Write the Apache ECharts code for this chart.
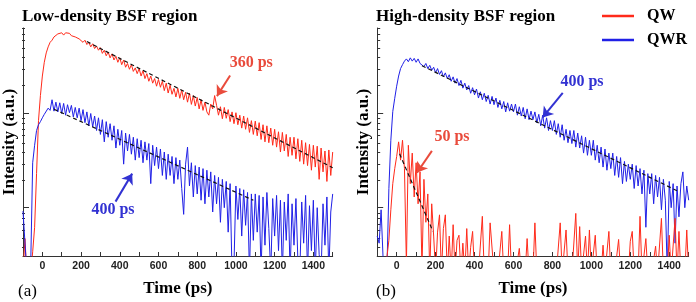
<!DOCTYPE html>
<html><head><meta charset="utf-8">
<script src="https://cdn.jsdelivr.net/npm/echarts@6/dist/echarts.min.js"></script>
<style>html,body{margin:0;padding:0;background:#fff}#chart{width:696px;height:302px}</style>
</head><body><div id="chart"></div>
<script>
// time axis (ps), 10 ps steps
const timePs = [
-100,-90,-80,-70,-60,-50,-40,-30,-20,-10,
0,10,20,30,40,50,60,70,80,90,
100,110,120,130,140,150,160,170,180,190,
200,210,220,230,240,250,260,270,280,290,
300,310,320,330,340,350,360,370,380,390,
400,410,420,430,440,450,460,470,480,490,
500,510,520,530,540,550,560,570,580,590,
600,610,620,630,640,650,660,670,680,690,
700,710,720,730,740,750,760,770,780,790,
800,810,820,830,840,850,860,870,880,890,
900,910,920,930,940,950,960,970,980,990,
1000,1010,1020,1030,1040,1050,1060,1070,1080,1090,
1100,1110,1120,1130,1140,1150,1160,1170,1180,1190,
1200,1210,1220,1230,1240,1250,1260,1270,1280,1290,
1300,1310,1320,1330,1340,1350,1360,1370,1380,1390,
1400,1410,1420,1430,1440,1450,1460,1470,1480,1490,
1500];

// (a) low-density BSF region, intensity (a.u.)
const qwLowDensity = [
0.2,0.47,0.2,0.2,0.2,0.34,0.62,2.3,8.4,15.5,
25,35,44,51,57,60,65,66,70,68,
72,68,72,70,71,67,69,65,66,62,
63,57,60,54,57,51,55,49,52,47,
50,43.5,47,41,45,39,43,37,40.5,35,
39,33,37,31,34,29.5,33,28,30.5,26.5,
30,25,28.5,23.5,26.5,22,25,21,23.5,19.5,
23,19,22,17.5,21,16.5,20,16,18.5,15,
18.5,14.5,17.8,14,16.8,13.2,16.5,12.5,15.5,12,
14.8,11.2,14,10.8,13.2,10.4,9.6,12.6,11.2,15.5,
12.2,9.6,11.8,8.8,11.6,8.9,11.0,8.2,10.4,7.8,
10.2,7.6,9.6,7.0,9.4,6.8,9.0,6.3,8.4,6.0,
8.3,5.8,8.0,5.3,7.6,5.0,7.4,4.9,7.0,4.6,
6.8,4.4,6.4,3.9,6.3,4.0,6.0,3.5,5.6,3.6,
5.6,3.3,5.4,3.1,5.2,2.9,4.9,2.8,4.7,2.5,
4.6,2.7,4.5,2.0,4.3,2.4,4.0,1.9,4.1,2.2,
3.9];
const qwrLowDensity = [
0.92,0.88,0.2,0.2,0.26,3.0,4.6,6.6,7.6,8.2,
9.0,9.8,9.6,11.4,10.8,14.0,10.6,13.2,10.4,13.0,
10.0,12.8,9.6,12.4,10.2,12.2,9.2,11.6,9.0,11.4,
8.4,11.0,8.0,10.4,7.4,10.0,7.2,9.4,6.6,9.0,
6.0,8.6,5.0,8.2,5.6,7.8,5.2,7.4,4.3,6.8,
4.6,6.6,2.9,6.2,4.0,6.0,3.7,5.6,3.2,5.4,
3.4,5.2,3.0,5.0,3.2,4.8,1.8,4.6,2.8,4.4,
2.6,4.2,2.2,3.9,2.0,3.7,2.2,3.5,1.8,3.4,
2.0,3.2,1.6,0.85,2.9,4.4,1.7,3.0,1.3,2.8,
1.4,2.7,1.2,2.6,1.1,2.5,1.3,2.4,0.9,2.2,
1.1,2.1,0.7,2.0,1.0,1.9,0.55,1.8,0.2,0.25,
1.7,0.75,1.6,0.5,1.55,0.65,1.45,0.2,1.4,0.45,
1.4,0.55,1.35,0.2,1.3,0.4,1.45,0.6,0.2,1.25,
0.5,1.35,0.35,1.2,0.2,1.15,0.45,1.4,0.2,1.1,
0.4,1.25,0.28,0.2,1.15,0.42,1.35,0.2,1.05,0.35,
1.2,0.2,1.0,0.32,0.2,1.1,0.4,1.3,0.2,0.9,
1.4];

// (b) high-density BSF region, intensity (a.u.)
const qwHighDensity = [
0.2,0.2,0.2,0.2,0.2,0.2,0.45,0.95,1.8,2.6,
3.5,5.0,3.2,5.2,2.6,0.25,4.6,1.8,3.8,1.3,
3.0,1.1,2.4,0.22,2.0,0.7,1.4,0.2,1.1,0.5,
0.2,0.55,0.84,0.2,0.6,0.84,0.2,0.5,0.2,0.66,
0.2,0.45,0.51,0.2,0.42,0.2,0.6,0.2,0.38,0.56,
0.2,0.2,0.2,0.2,0.81,0.2,0.2,0.2,0.69,0.69,
0.2,0.2,0.2,0.2,0.56,0.2,0.2,0.2,0.66,0.2,
0.2,0.2,0.2,0.37,0.2,0.2,0.2,0.47,0.2,0.2,
0.2,0.69,0.2,0.2,0.2,0.2,0.2,0.2,0.2,0.2,
0.2,0.2,0.2,0.2,0.69,0.2,0.2,0.58,0.2,0.2,
0.2,0.2,0.87,0.2,0.63,0.2,0.2,0.5,0.2,0.58,
0.2,0.2,0.51,0.2,0.2,0.2,0.4,0.2,0.2,0.56,
0.2,0.2,0.2,0.2,0.46,0.2,0.2,0.2,0.2,0.2,
0.44,0.56,0.2,0.2,0.2,0.81,0.2,0.2,0.47,0.2,
0.2,0.2,0.2,0.39,0.2,0.2,0.77,0.2,0.2,0.2,
0.51,0.2,0.2,0.77,0.2,0.56,0.2,0.2,0.2,0.58,
0.2];
const qwrHighDensity = [
0.5,0.42,0.95,0.3,0.2,0.22,1.6,5.2,10.5,14.5,
19.5,25,30,33,36,38,35.5,39,36,38.5,
35,38,34,35.5,31.5,34,30,32.5,28.8,31,
27,30,26,28.5,24.5,27,23.5,25.8,22,24.5,
21,23.5,19.8,22.5,18.6,21,17.8,19.8,16.4,18.8,
15.8,18.2,14.6,17,14,16.4,13.4,15.6,12.6,15.2,
12.4,14.6,11.6,13.8,11.2,13.4,10.4,13,10.6,12.6,
10.4,12.6,9.6,11.8,9.4,11.6,8.8,11.2,8.6,10.6,
8.6,10.4,8.0,9.8,7.4,9.6,7.0,9.0,6.6,8.4,
6.6,8.4,6.0,7.8,5.6,7.6,5.2,6.8,4.9,6.6,
4.8,6.6,4.4,6.2,4.3,5.8,3.8,5.6,3.6,5.2,
3.6,5.2,3.2,4.6,3.0,4.4,2.7,4.2,2.5,3.8,
2.6,3.8,2.2,3.5,2.1,3.4,1.8,3.1,1.9,2.9,
2.0,2.9,1.6,2.8,1.7,2.6,1.4,2.5,0.62,2.3,
1.4,2.3,1.1,2.2,1.3,2.1,0.95,2.0,1.2,0.2,
1.9,1.0,1.8,0.42,1.7,0.8,1.8,2.4,1.0,1.7,
1.2];

// exponential fits (straight on log axis): endpoints [time, intensity]
const fitQwLowTime = [230, 1500],  fitQwLowValue = [58.1, 2.66];
const fitQwrLowTime = [60, 1090],  fitQwrLowValue = [11.1, 1.2];
const fitQwHighTime = [15, 186],   fitQwHighValue = [3.73, 0.563];
const fitQwrHighTime = [130, 1450], fitQwrHighValue = [32.2, 1.48];

const xTickLabels = [0, 200, 400, 600, 800, 1000, 1200, 1400];
const yMajorTicks = [1, 10];
const yMinorTicks = [0.4,0.5,0.6,0.7,0.8,0.9,2,3,4,5,6,7,8,9,20,30,40,50,60,70,80];
const yRange = [0.307, 80.9];
const seriesNames = ['QW', 'QWR'];
const panelTitles = ['Low-density BSF region', 'High-density BSF region'];
const panelLetters = ['(a)', '(b)'];

const RED = '#ff2a1a', BLUE = '#2020e6';
const RED_TEXT = '#e94b3c', BLUE_TEXT = '#3232d2';
const SERIF = '"Liberation Serif", "DejaVu Serif", serif';
const SANS = '"Liberation Sans", Arial, sans-serif';

// annotation anchors in data coordinates (time ps, intensity)
const annotA = [
  {text:'360 ps', at:[1079, 34.7], from:[970, 25.3], to:[902, 15.3], color:RED_TEXT},
  {text:'400 ps', at:[365, 0.95], from:[378, 1.16], to:[464, 2.30], color:BLUE_TEXT}
];
const annotB = [
  {text:'400 ps', at:[952, 21.6], from:[853, 16.6], to:[750, 9.08], color:BLUE_TEXT},
  {text:'50 ps', at:[284, 5.63], from:[181, 4.01], to:[104, 2.35], color:RED_TEXT}
];

const pair = (ts, vs) => ts.map((t, i) => [t, vs[i]]);

function trace(name, color, ai, values) {
  return {name, type:'line', xAxisIndex:ai, yAxisIndex:ai, data:pair(timePs, values),
    symbol:'none', color, lineStyle:{width:1, color}, clip:true, animation:false, z:2};
}
function fit(ai, ts, vs, annots) {
  const s = {name:'fit', type:'line', xAxisIndex:ai, yAxisIndex:ai, data:pair(ts, vs),
    symbol:'none', lineStyle:{color:'#111', width:1.2, type:[4, 3]}, z:3, animation:false, silent:true};
  if (annots) {
    s.markLine = {silent:true, animation:false, symbol:['none', 'arrow'], symbolSize:10,
      lineStyle:{type:'solid', width:2}, label:{show:false},
      data: annots.map(a => [
        {coord:a.from, symbol:'none', lineStyle:{color:a.color, type:'solid', width:2}, itemStyle:{color:a.color}},
        {coord:a.to, symbol:'arrow', symbolSize:10, itemStyle:{color:a.color}}])};
    s.markPoint = {silent:true, animation:false,
      data: annots.map(a => ({coord:a.at, symbol:'circle', symbolSize:0,
        label:{show:true, position:'inside', formatter:a.text, color:a.color,
          fontFamily:SERIF, fontWeight:'bold', fontSize:16}}))};
  }
  return s;
}

const panels = [{left:22, width:310.7}, {left:377.2, width:311.5}];
const grids = [], xAxes = [], yAxes = [];
panels.forEach(p => {
  grids.push({left:p.left, top:28, width:p.width, height:230});
  grids.push({left:p.left, top:28, width:p.width, height:230});
});
panels.forEach((p, k) => {
  const g = k * 2;
  xAxes.push({gridIndex:g, type:'value', min:-100, max:1500, interval:100,
    axisLine:{show:true, onZero:false, lineStyle:{color:'#333', width:1}},
    axisTick:{show:true, inside:true, length:4, lineStyle:{color:'#333'}},
    axisLabel:{customValues:xTickLabels, formatter:v => String(v), margin:5,
      fontFamily:SANS, fontWeight:'bold', fontSize:10.5, color:'#222'},
    splitLine:{show:false},
    name:'Time (ps)', nameLocation:'middle', nameGap:24,
    nameTextStyle:{fontFamily:SERIF, fontWeight:'bold', fontSize:17, color:'#000'}});
  xAxes.push({gridIndex:g + 1, type:'value', min:-100, max:1500, show:false});
  yAxes.push({gridIndex:g, type:'log', min:yRange[0], max:yRange[1],
    axisLine:{show:true, onZero:false, lineStyle:{color:'#333', width:1}},
    axisTick:{show:true, inside:true, length:6, customValues:yMajorTicks, lineStyle:{color:'#333'}},
    axisLabel:{show:false}, splitLine:{show:false},
    name:'Intensity (a.u.)', nameLocation:'middle', nameGap:5,
    nameTextStyle:{fontFamily:SERIF, fontWeight:'bold', fontSize:17, color:'#000'}});
  yAxes.push({gridIndex:g + 1, type:'log', min:yRange[0], max:yRange[1],
    axisLine:{show:false, onZero:false},
    axisTick:{show:true, inside:true, length:3, customValues:yMinorTicks, lineStyle:{color:'#333'}},
    axisLabel:{show:false}, splitLine:{show:false}});
});

const option = {
  animation:false,
  backgroundColor:'#fff',
  title: [
    {text:panelTitles[0], left:22, top:8, padding:0, textStyle:{fontFamily:SERIF, fontWeight:'bold', fontSize:17, color:'#000'}},
    {text:panelTitles[1], left:376, top:8, padding:0, textStyle:{fontFamily:SERIF, fontWeight:'bold', fontSize:17, color:'#000'}},
    {text:panelLetters[0], left:18, top:283, padding:0, textStyle:{fontFamily:SERIF, fontWeight:'normal', fontSize:17, color:'#000'}},
    {text:panelLetters[1], left:376, top:283, padding:0, textStyle:{fontFamily:SERIF, fontWeight:'normal', fontSize:17, color:'#000'}}
  ],
  legend: {data:seriesNames, orient:'vertical', left:602, top:8, padding:0,
    icon:'rect', itemWidth:32, itemHeight:2.5, itemGap:8, selectedMode:false,
    textStyle:{fontFamily:SERIF, fontWeight:'bold', fontSize:16, color:'#000', lineHeight:16, padding:[0,0,0,8]}},
  grid: grids, xAxis: xAxes, yAxis: yAxes,
  series: [
    trace(seriesNames[0], RED, 0, qwLowDensity),
    trace(seriesNames[1], BLUE, 0, qwrLowDensity),
    fit(0, fitQwLowTime, fitQwLowValue, annotA),
    fit(0, fitQwrLowTime, fitQwrLowValue, null),
    trace(seriesNames[1], BLUE, 2, qwrHighDensity),
    trace(seriesNames[0], RED, 2, qwHighDensity),
    fit(2, fitQwrHighTime, fitQwrHighValue, annotB),
    fit(2, fitQwHighTime, fitQwHighValue, null)
  ]
};
const chart = echarts.init(document.getElementById('chart'), null, {renderer:'canvas'});
chart.setOption(option);
</script></body></html>
